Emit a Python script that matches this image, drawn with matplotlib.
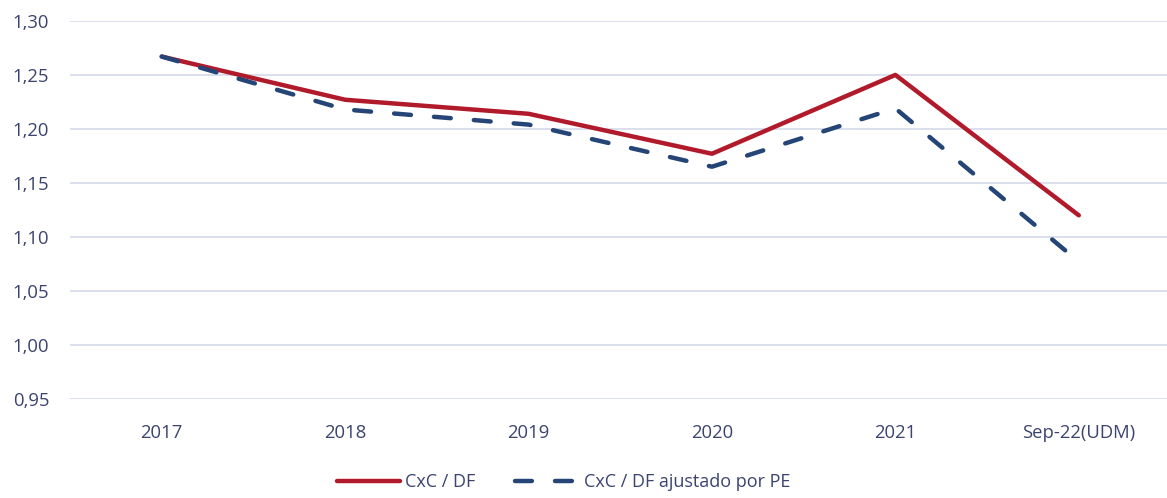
import matplotlib.pyplot as plt
from matplotlib.ticker import FixedLocator, FuncFormatter

categorias = ['2017', '2018', '2019', '2020', '2021', 'Sep-22(UDM)']
cxc_df = [1.267, 1.227, 1.214, 1.177, 1.250, 1.120]
cxc_df_pe = [1.267, 1.218, 1.204, 1.165, 1.219, 1.077]
y_ticks = [0.95, 1.00, 1.05, 1.10, 1.15, 1.20, 1.25, 1.30]

plt.rcParams['font.family'] = ['Open Sans', 'DejaVu Sans']
texto = '#3b4470'

fig = plt.figure(figsize=(11.67, 4.98), dpi=100)
ax = fig.add_axes([0.06, 0.199, 0.943, 0.759])

x = list(range(len(categorias)))
ax.plot(x, cxc_df, color='#B11A2B', lw=3.2, solid_capstyle='round',
        label='CxC / DF', zorder=3)
ax.plot(x, cxc_df_pe, color='#254577', lw=3.2, dashes=(3.8, 5.2),
        dash_capstyle='round', label='CxC / DF ajustado por PE', zorder=3)

ax.set_xlim(-0.5, 5.5)
ax.set_ylim(0.95, 1.30)
ax.yaxis.set_major_locator(FixedLocator(y_ticks))
ax.yaxis.set_major_formatter(FuncFormatter(lambda v, p: f'{v:.2f}'.replace('.', ',')))
ax.set_xticks(x)
ax.set_xticklabels(categorias)
ax.grid(axis='y', color='#dcdfee', lw=1.4)
ax.set_axisbelow(True)
for s in ax.spines.values():
    s.set_visible(False)
ax.tick_params(axis='both', length=0, colors=texto, labelsize=13.3)
ax.tick_params(axis='x', pad=18)
ax.tick_params(axis='y', pad=15)

leg = fig.legend(loc='center', bbox_to_anchor=(0.483, 0.032), ncol=2, frameon=False,
                 fontsize=13, handlelength=3.5, columnspacing=2.2, handletextpad=0.3)
for t in leg.get_texts():
    t.set_color(texto)

fig.savefig('out.png', dpi=100)
